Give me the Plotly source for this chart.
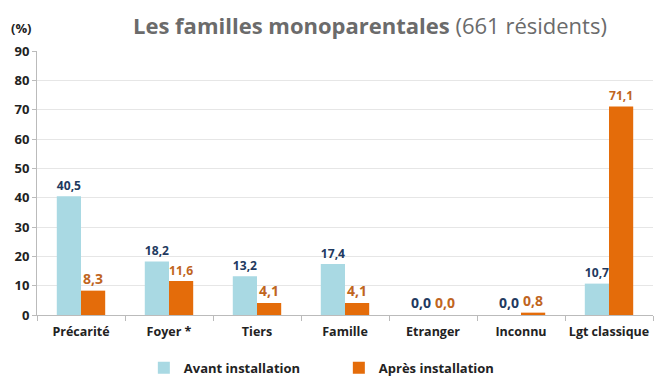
import plotly.graph_objects as go

categories = ["Précarité", "Foyer *", "Tiers", "Famille", "Etranger", "Inconnu", "Lgt classique"]
avant = [40.5, 18.2, 13.2, 17.4, 0.0, 0.0, 10.7]
apres = [8.3, 11.6, 4.1, 4.1, 0.0, 0.8, 71.1]
y_ticks = list(range(0, 100, 10))

FONT = "Open Sans"
BLUE = "#A9D9E3"
ORANGE = "#E46C0A"

fig = go.Figure()
fig.add_trace(go.Bar(
    x=categories, y=avant, name="Avant installation",
    marker=dict(color=BLUE, line=dict(width=0)),
    texttemplate="%{y:.1f}", textposition="outside", cliponaxis=False,
    textfont=dict(family=FONT, size=14, color="#1F3A60", weight="bold"),
))
fig.add_trace(go.Bar(
    x=categories, y=apres, name="Après installation",
    marker=dict(color=ORANGE, line=dict(width=0)),
    texttemplate="%{y:.1f}", textposition="outside", cliponaxis=False,
    textfont=dict(family=FONT, size=14, color="#C0651E", weight="bold"),
))

fig.update_layout(
    width=655, height=376,
    margin=dict(l=37, r=2, t=51, b=61, autoexpand=False),
    paper_bgcolor="white", plot_bgcolor="white",
    separators=", ",
    barmode="group", bargap=0.45, bargroupgap=0,
    font=dict(family=FONT, color="#222"),
    showlegend=True,
    legend=dict(
        orientation="h", x=0.49, xanchor="center", y=-0.2, yanchor="middle",
        font=dict(family=FONT, size=13, color="#222", weight="bold"),
        itemwidth=30, entrywidth=150, traceorder="normal",
    ),
    annotations=[
        dict(text="<b>Les familles monoparentales</b> (661 résidents)",
             xref="paper", yref="paper", x=0.54, y=1.0, yshift=26,
             xanchor="center", yanchor="middle", showarrow=False,
             font=dict(family=FONT, size=22, color="#6B6B6B")),
        dict(text="<b>(%)</b>", xref="paper", yref="paper", x=0, xshift=-16,
             y=1.0, yshift=23, xanchor="center", yanchor="middle", showarrow=False,
             font=dict(family=FONT, size=13, color="#222")),
    ],
)
fig.update_xaxes(
    type="category", tickson="boundaries", ticks="outside", ticklen=5,
    tickcolor="#BBBBBB", showline=True, linecolor="#BBBBBB", linewidth=1,
    showgrid=False, tickangle=0, ticklabelstandoff=5,
    tickfont=dict(family=FONT, size=12.5, color="#222", weight="bold"),
)
fig.update_yaxes(
    range=[0, 90], tickvals=y_ticks, ticks="outside", ticklen=4,
    tickcolor="#BBBBBB", showline=True, linecolor="#BBBBBB", linewidth=1,
    showgrid=True, gridcolor="#E6E6E6", zeroline=False,
    tickfont=dict(family=FONT, size=13, color="#222", weight="bold"),
)

fig.write_html("out.html")
